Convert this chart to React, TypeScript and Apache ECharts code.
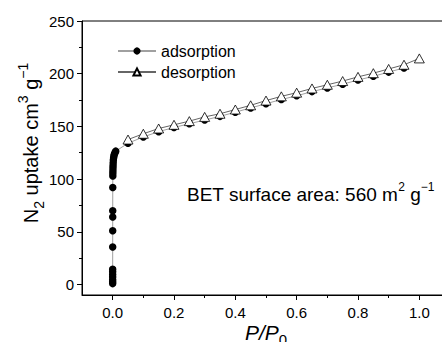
import React, { useEffect, useRef } from "react";
import * as echarts from "echarts";

const FONT = "'Liberation Sans', Arial, Helvetica, sans-serif";

const adsorptionX = [
  0.0, 0.0, 0.0, 0.0, 0.0, 0.0, 0.0, 0.0001, 0.0001, 0.0002, 0.0002, 0.0003,
  0.0005, 0.0006, 0.0008, 0.001, 0.0013, 0.0017, 0.0022, 0.003, 0.004, 0.0055,
  0.0075, 0.01,
  0.05, 0.1, 0.15, 0.2, 0.25, 0.3, 0.35, 0.4, 0.45, 0.5, 0.55, 0.6, 0.65, 0.7,
  0.75, 0.8, 0.85, 0.9, 0.95,
];
const adsorptionY = [
  0.8, 2.5, 4.5, 7, 9.5, 12, 14.5, 35.5, 51, 64, 70, 92,
  103, 105.5, 108, 110.5, 113, 115.5, 118, 120, 122, 123.5,
  125, 126.5,
  134, 140, 145, 149, 152.5, 156, 159.5, 163.5, 167.5, 171.5, 175.5, 179, 183,
  186.5, 190, 194, 197.5, 201.5, 205.5,
];

const desorptionX = [
  0.05, 0.1, 0.15, 0.2, 0.25, 0.3, 0.35, 0.4, 0.45, 0.5, 0.55, 0.6, 0.65, 0.7,
  0.75, 0.8, 0.85, 0.9, 0.95, 1.0,
];
const desorptionY = [
  137.5, 143, 148, 151.5, 155, 159, 162, 166, 170, 174.5, 178.5, 182, 186,
  189.5, 193, 197, 200.5, 204.5, 208.5, 214.5,
];

const xMajorTicks = [0, 0.2, 0.4, 0.6, 0.8, 1.0];
const xMinorTicks = [0.1, 0.3, 0.5, 0.7, 0.9];
const yMajorTicks = [0, 50, 100, 150, 200, 250];
const yMinorTicks = [25, 75, 125, 175, 225];

const seriesNames = ["adsorption", "desorption"];

export default function App() {
  const ref = useRef<HTMLDivElement>(null);

  useEffect(() => {
    if (!ref.current) return;
    const chart = echarts.init(ref.current, null, { renderer: "svg" });

    const adsData = adsorptionX.map((x, i) => [x, adsorptionY[i]]);
    const desData = desorptionX.map((x, i) => [x, desorptionY[i]]);

    const option: any = {
      animation: false,
      backgroundColor: "#fff",
      grid: {
        left: 82,
        top: 21,
        width: 368,
        height: 274,
        containLabel: false,
        outerBoundsMode: "none",
        show: true,
        borderColor: "#000",
        borderWidth: 1,
        backgroundColor: "transparent",
      },
      legend: {
        data: seriesNames,
        orient: "vertical",
        left: 112,
        top: 38,
        itemWidth: 38,
        itemHeight: 9,
        itemGap: 5,
        textStyle: { fontSize: 16, color: "#000", fontFamily: FONT },
      },
      xAxis: [
        {
          type: "value",
          min: -0.1,
          max: 1.1,
          position: "bottom",
          splitLine: { show: false },
          axisLine: { show: true, onZero: false, lineStyle: { color: "#000", width: 1 } },
          axisTick: {
            show: true,
            inside: false,
            length: 5,
            customValues: xMajorTicks,
            lineStyle: { color: "#000" },
          },
          axisLabel: {
            customValues: xMajorTicks,
            formatter: (v: number) => v.toFixed(1),
            fontSize: 15,
            color: "#000",
            fontFamily: FONT,
            margin: 10,
          },
        },
        {
          type: "value",
          min: -0.1,
          max: 1.1,
          position: "bottom",
          offset: 0,
          splitLine: { show: false },
          axisLine: { show: false, onZero: false },
          axisTick: {
            show: true,
            inside: false,
            length: 3,
            customValues: xMinorTicks,
            lineStyle: { color: "#000" },
          },
          axisLabel: { show: false },
        },
      ],
      yAxis: [
        {
          type: "value",
          min: -10,
          max: 250,
          position: "left",
          splitLine: { show: false },
          axisLine: { show: true, onZero: false, lineStyle: { color: "#000", width: 1 } },
          axisTick: {
            show: true,
            inside: false,
            length: 5,
            customValues: yMajorTicks,
            lineStyle: { color: "#000" },
          },
          axisLabel: {
            customValues: yMajorTicks,
            fontSize: 15,
            color: "#000",
            fontFamily: FONT,
            margin: 8,
          },
        },
        {
          type: "value",
          min: -10,
          max: 250,
          position: "left",
          offset: 0,
          splitLine: { show: false },
          axisLine: { show: false, onZero: false },
          axisTick: {
            show: true,
            inside: false,
            length: 3,
            customValues: yMinorTicks,
            lineStyle: { color: "#000" },
          },
          axisLabel: { show: false },
        },
      ],
      series: [
        {
          name: seriesNames[0],
          type: "line",
          data: adsData,
          xAxisIndex: 0,
          yAxisIndex: 0,
          symbol: "circle",
          symbolSize: 7.5,
          showAllSymbol: true,
          itemStyle: { color: "#000", borderWidth: 0 },
          lineStyle: { color: "#a0a0a0", width: 1 },
          z: 2,
        },
        {
          name: seriesNames[1],
          type: "line",
          data: desData,
          xAxisIndex: 0,
          yAxisIndex: 0,
          symbol: "triangle",
          symbolSize: [10, 9],
          showAllSymbol: true,
          itemStyle: { color: "#fff", borderColor: "#000", borderWidth: 0.8 },
          lineStyle: { color: "#666", width: 1 },
          z: 3,
        },
      ],
      graphic: [
        {
          type: "text",
          x: 31,
          y: 143,
          rotation: Math.PI / 2,
          style: {
            text: "{a|N}{sub|2}{a| uptake cm}{sup|3}{a| g}{sup|−1}",
            align: "center",
            verticalAlign: "middle",
            fill: "#000",
            fontFamily: FONT,
            rich: {
              a: { fontSize: 20, lineHeight: 30, verticalAlign: "middle", fontFamily: FONT, fill: "#000" },
              sub: { fontSize: 14, lineHeight: 14, verticalAlign: "bottom", fontFamily: FONT, fill: "#000" },
              sup: { fontSize: 14, lineHeight: 14, verticalAlign: "top", fontFamily: FONT, fill: "#000" },
            },
          },
        },
        {
          type: "text",
          x: 266,
          y: 332,
          style: {
            text: "{i|P/P}{sub|0}",
            align: "center",
            verticalAlign: "middle",
            fill: "#000",
            fontFamily: FONT,
            rich: {
              i: { fontSize: 21, fontStyle: "italic", lineHeight: 30, verticalAlign: "middle", fontFamily: FONT, fill: "#000" },
              sub: { fontSize: 15, lineHeight: 15, verticalAlign: "bottom", fontFamily: FONT, fill: "#000" },
            },
          },
        },
        {
          type: "text",
          x: 187,
          y: 194,
          style: {
            text: "{a|BET surface area: 560 m}{sup|2}{a| g}{sup|−1}",
            align: "left",
            verticalAlign: "middle",
            fill: "#000",
            fontFamily: FONT,
            rich: {
              a: { fontSize: 19, lineHeight: 26, verticalAlign: "middle", fontFamily: FONT, fill: "#000" },
              sup: { fontSize: 12, lineHeight: 12, verticalAlign: "top", fontFamily: FONT, fill: "#000" },
            },
          },
        },
      ],
    };

    chart.setOption(option);
    return () => chart.dispose();
  }, []);

  return <div ref={ref} style={{ width: 442, height: 342, position: "absolute", left: 0, top: 0 }} />;
}
